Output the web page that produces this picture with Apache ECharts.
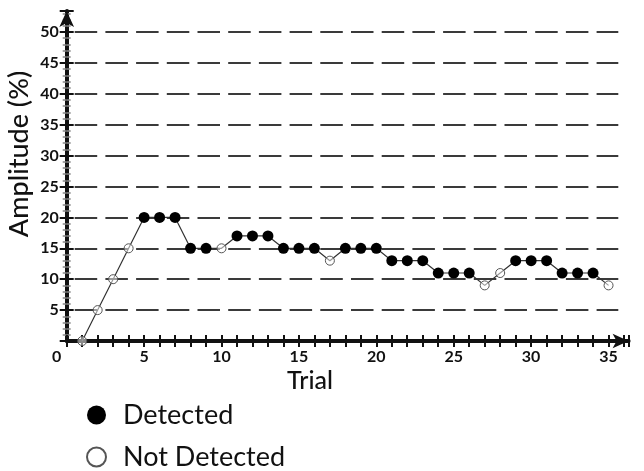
<!DOCTYPE html>
<html>
<head>
<meta charset="utf-8">
<script src="https://cdn.jsdelivr.net/npm/echarts@6/dist/echarts.min.js"></script>
<style>
    html, body { margin: 0; padding: 0; background: #fff; }
    #chart { width: 644px; height: 471px; }
</style>
</head>
<body>
<div id="chart"></div>
<script>
const trials = [1, 2, 3, 4, 5, 6, 7, 8, 9, 10, 11, 12, 13, 14, 15, 16, 17, 18, 19, 20,
    21, 22, 23, 24, 25, 26, 27, 28, 29, 30, 31, 32, 33, 34, 35];
const amplitudes = [0, 5, 10, 15, 20, 20, 20, 15, 15, 15, 17, 17, 17, 15, 15, 15, 13, 15, 15, 15,
    13, 13, 13, 11, 11, 11, 9, 11, 13, 13, 13, 11, 11, 11, 9];
const detected = [0, 0, 0, 0, 1, 1, 1, 1, 1, 0, 1, 1, 1, 1, 1, 1, 0, 1, 1, 1,
    1, 1, 1, 1, 1, 1, 0, 0, 1, 1, 1, 1, 1, 1, 0];
const yTicks = [5, 10, 15, 20, 25, 30, 35, 40, 45, 50];
const xTicks = [0, 5, 10, 15, 20, 25, 30, 35];

const FONT = 'Lato, "Open Sans", sans-serif';
const INK = '#111';

function pointsWhere(flag) {
    return trials
        .map((t, i) => [t, amplitudes[i], detected[i]])
        .filter((p) => p[2] === flag)
        .map((p) => [p[0], p[1]]);
}

const chart = echarts.init(document.getElementById('chart'));

chart.setOption({
    backgroundColor: '#fff',
    animation: false,
    grid: [
        // data area, gridlines end before the arrow
        { left: 66.7, right: 25.7, top: 32, bottom: 130 },
        // axes with arrows
        { left: 66.7, right: 15.4, top: 11, bottom: 130 }
    ],
    xAxis: [
        {
            gridIndex: 0, type: 'value', min: 0, max: 35.63, show: false
        },
        {
            gridIndex: 1, type: 'value', min: 0, max: 36.3, interval: 1,
            position: 'bottom',
            axisLine: {
                show: true,
                lineStyle: { color: INK, width: 4 },
                symbol: ['none', 'arrow'],
                symbolSize: [11, 16]
            },
            axisTick: { show: true, length: 6, lineStyle: { color: INK, width: 2 } },
            axisLabel: {
                margin: 8,
                color: INK,
                fontFamily: FONT,
                fontWeight: 'bold',
                fontSize: 16,
                formatter: (v) => {
                    if (v === 0) return '{z|0}';
                    return xTicks.includes(v) ? String(v) : '';
                },
                rich: { z: { padding: [0, 20, 0, 0], color: INK, fontFamily: FONT, fontWeight: 'bold', fontSize: 16 } }
            },
            splitLine: { show: false }
        },
        {
            gridIndex: 1, type: 'value', min: 0, max: 36.3, interval: 1,
            position: 'bottom',
            axisLine: { show: false },
            axisTick: { show: true, inside: true, length: 6, lineStyle: { color: INK, width: 2 } },
            axisLabel: { show: false },
            splitLine: { show: false }
        }
    ],
    yAxis: [
        {
            gridIndex: 0, type: 'value', min: 0, max: 50, interval: 5,
            axisLine: { show: false },
            axisTick: { show: false },
            axisLabel: { show: false },
            splitLine: {
                show: true,
                showMinLine: false,
                lineStyle: { color: '#3a3a3a', width: 2, type: [22.5, 8.2], dashOffset: 22.7 }
            }
        },
        {
            gridIndex: 1, type: 'value', min: 0, max: 53.4, interval: 5,
            position: 'left',
            axisLine: {
                show: true,
                lineStyle: { color: INK, width: 4 },
                symbol: ['none', 'arrow'],
                symbolSize: [11, 16]
            },
            axisTick: { show: true, length: 7, lineStyle: { color: INK, width: 2 } },
            minorTick: { show: true, splitNumber: 5, length: 4, lineStyle: { color: '#888', width: 1.5 } },
            axisLabel: {
                margin: 8,
                color: INK,
                fontFamily: FONT,
                fontWeight: 'bold',
                fontSize: 16,
                formatter: (v) => (yTicks.includes(v) ? String(v) : '')
            },
            splitLine: { show: false }
        },
        {
            gridIndex: 1, type: 'value', min: 0, max: 53.4, interval: 5,
            position: 'left',
            axisLine: { show: false },
            axisTick: { show: true, inside: true, length: 7, lineStyle: { color: INK, width: 2 } },
            minorTick: { show: true, splitNumber: 5, length: 4, lineStyle: { color: '#888', width: 1.5 } },
            axisLabel: { show: false },
            splitLine: { show: false }
        }
    ],
    legend: {
        orient: 'vertical',
        left: 86,
        top: 401.5,
        height: 75,
        padding: 0,
        itemWidth: 19,
        itemHeight: 19,
        itemGap: 15,
        data: ['Detected', 'Not Detected'],
        textStyle: {
            color: INK,
            fontFamily: FONT,
            fontSize: 27,
            lineHeight: 27,
            padding: [0, 0, 0, 12]
        }
    },
    graphic: [
        {
            type: 'text',
            x: 19,
            y: 154,
            rotation: Math.PI / 2,
            style: {
                text: 'Amplitude (%)',
                fill: INK,
                font: '500 27px ' + FONT,
                align: 'center',
                verticalAlign: 'middle'
            }
        },
        {
            type: 'text',
            x: 310,
            y: 381,
            style: {
                text: 'Trial',
                fill: INK,
                font: '500 25px ' + FONT,
                align: 'center',
                verticalAlign: 'middle'
            }
        }
    ],
    series: [
        {
            name: 'trace',
            type: 'line',
            xAxisIndex: 0,
            yAxisIndex: 0,
            data: trials.map((t, i) => [t, amplitudes[i]]),
            symbol: 'none',
            lineStyle: { color: '#333', width: 1.2 },
            z: 2
        },
        {
            name: 'Detected',
            type: 'scatter',
            xAxisIndex: 0,
            yAxisIndex: 0,
            data: pointsWhere(1),
            symbol: 'circle',
            symbolSize: 11,
            itemStyle: { color: '#000', opacity: 1 },
            z: 3
        },
        {
            name: 'Not Detected',
            type: 'scatter',
            xAxisIndex: 0,
            yAxisIndex: 0,
            data: pointsWhere(0),
            symbol: 'circle',
            symbolSize: 9,
            itemStyle: { color: 'rgba(255,255,255,0.5)', borderColor: '#555', borderWidth: 1, opacity: 1 },
            z: 3
        }
    ]
});
</script>
</body>
</html>
